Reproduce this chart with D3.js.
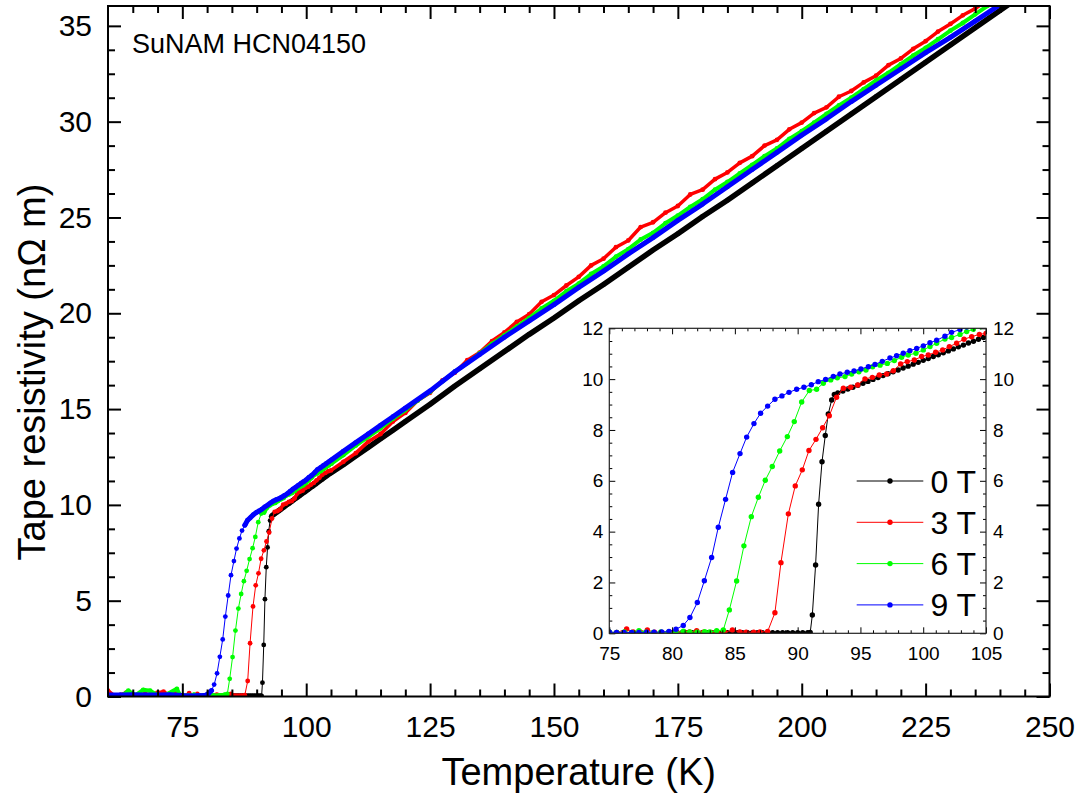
<!DOCTYPE html>
<html>
<head>
<meta charset="utf-8">
<script src="https://cdn.jsdelivr.net/npm/d3@7"></script>
<style>
  body { margin: 0; background: #fff; }
  text { font-family: "Liberation Sans", Arial, Helvetica, sans-serif; fill: #000; }
</style>
</head>
<body>
<div id="chart"></div>
<script>
// ---- data: [temperature K, resistivity nOhm m] ----
var rho0T = [
  [80.0,0.02],[80.4,0.02],[80.8,0.02],[81.2,0.02],[81.6,0.02],[82.0,0.02],[82.4,0.02],[82.8,0.02],
  [83.2,0.02],[83.6,0.02],[84.0,0.02],[84.4,0.02],[84.8,0.02],[85.2,0.02],[85.6,0.02],[86.0,0.02],
  [86.4,0.02],[86.8,0.02],[87.2,0.02],[87.6,0.02],[88.0,0.02],[88.4,0.02],[88.8,0.02],[89.2,0.02],
  [89.6,0.02],[90.0,0.02],[90.4,0.02],[90.8,0.02],[91.0,0.03],
  [91.17,0.72],[91.43,2.69],[91.67,5.08],[91.94,6.75],[92.2,7.78],[92.44,8.63],[92.71,9.18],[92.92,9.40],
  [93.2,9.46],[93.6,9.53],[94.0,9.61],[94.4,9.68],[94.8,9.76],[95.2,9.84],[95.6,9.91],[96.0,9.99],
  [96.4,10.06],[96.8,10.14],[97.2,10.21],[97.6,10.29],[98.0,10.36],[98.4,10.44],[98.8,10.51],[99.2,10.59],
  [99.6,10.66],[100.0,10.74],[100.4,10.81],[100.8,10.89],[101.2,10.96],[101.6,11.04],[102.0,11.11],
  [102.4,11.19],[102.8,11.27],[103.2,11.34],[103.6,11.42],[104.0,11.49],[104.4,11.57],[104.8,11.64],
  [105.2,11.71],
  [107.5,12.1],[110,12.55],[112.5,13.0],[115,13.45],[117.5,13.9],[120,14.35],[125,15.25],[130,16.2],
  [135,17.1],[140,18.0],[145,18.9],[150,19.75],[155,20.65],[160,21.5],[165,22.4],[170,23.3],
  [175,24.15],[180,25.05],[185,25.9],[190,26.8],[195,27.7],[200,28.6],[205,29.5],[210,30.4],
  [215,31.3],[220,32.2],[225,33.1],[230,34.0],[235,34.9],[240,35.8],[242.5,36.25]
];

var rho3T = [
  [60,0.3],[61.2,0.06],[62.5,0.08],[63.7,0.2],[65,0.05],[66.2,0.06],[67.5,0.15],[68.7,0.07],
  [70,0.2],[71.2,0.25],[72.5,0.06],[73.7,0.2],[74.5,0.07],
  [75.0,0.04],[75.6,0.03],[76.38,0.17],[76.9,0.05],[77.5,0.04],[78.03,0.13],[78.6,0.04],[79.2,0.03],
  [79.8,0.05],[80.4,0.03],[81.0,0.04],[81.4,0.05],[81.96,0.1],[82.5,0.04],[83.1,0.03],[83.6,0.05],
  [84.2,0.04],[84.8,0.13],[85.4,0.05],[85.9,0.04],[86.5,0.04],[87.0,0.05],[87.61,0.07],
  [88.19,0.81],[88.67,2.78],[89.26,4.70],[89.81,5.80],[90.37,6.43],[90.90,7.19],[91.46,7.63],
  [91.99,8.09],[92.52,8.56],[93.10,9.29],[93.64,9.64],[94.22,9.68],[94.78,9.77],[95.36,10.01],
  [95.95,10.07],[96.50,10.16],[97.09,10.20],[97.62,10.33],[98.20,10.60],[98.73,10.69],[99.29,10.75],
  [99.87,10.89],[100.40,10.95],[100.99,11.06],[101.55,11.15],[102.08,11.28],[102.66,11.41],
  [103.25,11.57],[103.86,11.67],[104.47,11.76],[105.0,11.80],
  [107.5,12.25],[110,12.7],[112.5,13.3],[115,13.7],[117.5,14.35],[120,14.8],[122.5,15.45],[125,15.85],
  [127.5,16.5],[130,16.9],[132.5,17.55],[135,17.95],[137.5,18.55],[140,19.0],[142.5,19.55],[145,19.95],
  [147.5,20.6],[150,20.95],[152.5,21.45],[155,21.9],[157.5,22.5],[160,22.85],[162.5,23.45],[165,23.8],
  [167.5,24.5],[170,24.75],[172.5,25.25],[175,25.6],[177.5,26.2],[180,26.45],[182.5,27.0],[185,27.35],
  [187.5,27.85],[190,28.2],[192.5,28.75],[195,29.05],[197.5,29.6],[200,29.95],[202.5,30.45],[205,30.75],
  [207.5,31.3],[210,31.6],[212.5,32.05],[215,32.4],[217.5,32.95],[220,33.3],[222.5,33.8],[225,34.2],
  [227.5,34.7],[230,35.1],[232.5,35.55],[235,35.9],[237.5,36.35]
];

var rho6T = [
  [60,0.06],[61.5,0.05],[63,0.07],[64.1,0.3],[65.5,0.06],[67.1,0.35],[68.5,0.3],[70,0.07],
  [71.5,0.06],[73.9,0.4],[74.5,0.08],
  [75.0,0.05],[75.6,0.03],[76.2,0.05],[76.8,0.03],[77.36,0.1],[77.9,0.04],[78.5,0.03],[79.1,0.05],
  [79.7,0.04],[80.3,0.03],[80.9,0.08],[81.4,0.05],[82.0,0.04],[82.6,0.06],[83.0,0.05],[83.55,0.1],
  [84.08,0.13],[84.56,0.92],[85.14,2.06],[85.72,3.44],[86.31,4.59],[86.87,5.35],[87.42,6.02],
  [87.98,6.56],[88.57,7.17],[89.18,7.74],[89.73,8.33],[90.32,9.10],[90.93,9.55],[91.51,9.60],
  [92.04,9.84],[92.63,9.97],[93.16,10.05],[93.77,10.10],[94.30,10.20],[94.88,10.29],[95.44,10.36],
  [95.97,10.49],[96.56,10.55],[97.14,10.62],[97.70,10.73],[98.28,10.86],[98.81,10.95],[99.42,11.02],
  [100.01,11.15],[100.54,11.28],[101.07,11.41],[101.73,11.58],[102.26,11.64],[102.93,11.76],
  [103.46,11.87],[103.99,11.96],[104.57,12.06],[105.1,12.15],
  [107.5,12.6],[110,13.1],[112.5,13.55],[115,14.0],[117.5,14.5],[120,14.95],[122.5,15.45],[125,15.9],
  [127.5,16.45],[130,16.95],[132.5,17.4],[135,17.9],[137.5,18.4],[140,18.85],[142.5,19.3],[145,19.75],
  [147.5,20.25],[150,20.65],[152.5,21.15],[155,21.55],[157.5,22.05],[160,22.45],[162.5,22.95],
  [165,23.35],[167.5,23.85],[170,24.2],[172.5,24.7],[175,25.1],[177.5,25.55],[180,25.95],[182.5,26.45],
  [185,26.85],[187.5,27.3],[190,27.75],[192.5,28.2],[195,28.6],[197.5,29.1],[200,29.5],[202.5,29.95],
  [205,30.4],[207.5,30.85],[210,31.25],[212.5,31.7],[215,32.15],[217.5,32.55],[220,33.0],[222.5,33.45],
  [225,33.85],[227.5,34.3],[230,34.75],[232.5,35.15],[235,35.6],[237.5,36.05]
];

var rho9T = [
  [60,0.08],[62.5,0.08],[65,0.09],[67.5,0.08],[70,0.08],[72.5,0.09],
  [75.0,0.05],[75.58,0.03],[76.17,0.03],[76.78,0.03],[77.36,0.03],[77.97,0.04],[78.56,0.04],
  [79.17,0.05],[79.75,0.07],[80.31,0.16],[80.89,0.31],[81.42,0.62],[82.01,1.21],[82.57,2.07],
  [83.15,2.98],[83.68,4.17],[84.26,5.27],[84.82,6.33],[85.41,7.07],[85.94,7.72],[86.52,8.25],
  [87.05,8.66],[87.61,8.94],[88.19,9.21],[88.75,9.34],[89.31,9.48],[89.92,9.60],[90.50,9.68],
  [91.09,9.78],[91.64,9.90],[92.23,9.99],[92.84,10.11],[93.37,10.20],[93.95,10.27],[94.49,10.32],
  [95.04,10.40],[95.63,10.49],[96.16,10.58],[96.74,10.70],[97.35,10.83],[97.88,10.92],[98.41,11.02],
  [98.94,11.12],[99.48,11.21],[100.01,11.31],[100.54,11.43],[101.07,11.53],[101.73,11.69],
  [102.26,11.84],[102.93,11.95],[103.46,12.05],[104.0,12.15],[104.55,12.25],[105.1,12.35],
  [107.5,12.8],[110,13.25],[112.5,13.7],[115,14.15],[117.5,14.6],[120,15.05],[125,15.95],[130,16.95],
  [135,17.85],[140,18.75],[145,19.6],[150,20.45],[155,21.35],[160,22.2],[165,23.1],[170,23.95],
  [175,24.85],[180,25.7],[185,26.6],[190,27.5],[195,28.4],[200,29.3],[205,30.15],[210,31.05],
  [215,31.9],[220,32.75],[225,33.6],[230,34.4],[235,35.25],[240,36.1]
];

var seriesNames = ["0 T", "3 T", "6 T", "9 T"];
var seriesData = [rho0T, rho3T, rho6T, rho9T];

var xTicksMain = [75, 100, 125, 150, 175, 200, 225, 250];
var yTicksMain = [0, 5, 10, 15, 20, 25, 30, 35];
var xTicksInset = [75, 80, 85, 90, 95, 100, 105];
var yTicksInset = [0, 2, 4, 6, 8, 10, 12];

var sampleLabel = "SuNAM HCN04150";
var xTitle = "Temperature (K)";
var yTitle = "Tape resistivity (n\u03A9 m)";

// ---- styles ----
var colors = ["#000000", "#ff0000", "#00ff00", "#0000ff"];
var bandWidths = [5.5, 3.5, 4, 5];

var svg = d3.select("#chart").append("svg")
  .attr("width", 1085).attr("height", 793);

var box = {l: 108, r: 1049.5, t: 6, b: 696.5};
var x = d3.scaleLinear().domain([60, 250]).range([box.l, box.r]);
var y = d3.scaleLinear().domain([0, 36]).range([box.b, 6.7]);

var ibox = {l: 609.3, r: 986, t: 328.3, b: 633.3};
var xi = d3.scaleLinear().domain([75, 105]).range([ibox.l, ibox.r]);
var yi = d3.scaleLinear().domain([0, 12]).range([ibox.b, ibox.t]);

var defs = svg.append("defs");
defs.append("clipPath").attr("id", "clipMain").append("rect")
  .attr("x", box.l).attr("y", box.t).attr("width", box.r - box.l).attr("height", box.b - box.t);
defs.append("clipPath").attr("id", "clipInset").append("rect")
  .attr("x", ibox.l).attr("y", ibox.t).attr("width", ibox.r - ibox.l).attr("height", ibox.b - ibox.t);

// points on the flat parts (normal state / zero) get the dense thick band
function flat(d, i, arr) {
  var s = 0;
  if (i > 0) s = Math.max(s, Math.abs((d[1] - arr[i - 1][1]) / (d[0] - arr[i - 1][0])));
  if (i < arr.length - 1) s = Math.max(s, Math.abs((arr[i + 1][1] - d[1]) / (arr[i + 1][0] - d[0])));
  return s < 0.6;
}

// ---- main plot data ----
var main = svg.append("g").attr("clip-path", "url(#clipMain)");
var lineMain = d3.line().x(function(d) { return x(d[0]); }).y(function(d) { return y(d[1]); });
var bandMain = d3.line().defined(flat).x(function(d) { return x(d[0]); }).y(function(d) { return y(d[1]); });

seriesData.forEach(function(data, k) {
  var g = main.append("g");
  g.append("path").datum(data).attr("d", bandMain)
    .attr("fill", "none").attr("stroke", colors[k]).attr("stroke-width", bandWidths[k])
    .attr("stroke-linejoin", "round").attr("stroke-linecap", "round");
  g.append("path").datum(data).attr("d", lineMain)
    .attr("fill", "none").attr("stroke", colors[k]).attr("stroke-width", 1);
  g.selectAll("circle").data(data).enter().append("circle")
    .attr("cx", function(d) { return x(d[0]); })
    .attr("cy", function(d) { return y(d[1]); })
    .attr("r", 2.4).attr("fill", colors[k]);
});

// ---- main axes ----
function drawAxis(g, axis, width) {
  g.call(axis);
  g.select(".domain").remove();
  g.selectAll(".tick line").attr("stroke", "#000").attr("stroke-width", width);
}

var xMinor = d3.range(65, 250, 5).filter(function(v) { return v % 25 !== 0; });
var yMinor = d3.range(1.25, 36, 1.25).filter(function(v) { return v % 5 !== 0; });

var axB = svg.append("g").attr("transform", "translate(0," + box.b + ")");
drawAxis(axB, d3.axisBottom(x).tickValues(xTicksMain).tickSize(-13).tickPadding(19), 2);
axB.selectAll("text").attr("font-size", 30);
drawAxis(svg.append("g").attr("transform", "translate(0," + box.b + ")"),
  d3.axisBottom(x).tickValues(xMinor).tickSize(-7).tickFormat(""), 2);

drawAxis(svg.append("g").attr("transform", "translate(0," + box.t + ")"),
  d3.axisTop(x).tickValues(xTicksMain).tickSize(-13).tickFormat(""), 2);
drawAxis(svg.append("g").attr("transform", "translate(0," + box.t + ")"),
  d3.axisTop(x).tickValues(xMinor).tickSize(-7).tickFormat(""), 2);

var axL = svg.append("g").attr("transform", "translate(" + box.l + ",0)");
drawAxis(axL, d3.axisLeft(y).tickValues(yTicksMain).tickSize(-13).tickPadding(16), 2);
axL.selectAll("text").attr("font-size", 30);
drawAxis(svg.append("g").attr("transform", "translate(" + box.l + ",0)"),
  d3.axisLeft(y).tickValues(yMinor).tickSize(-7).tickFormat(""), 2);

drawAxis(svg.append("g").attr("transform", "translate(" + box.r + ",0)"),
  d3.axisRight(y).tickValues(yTicksMain).tickSize(-13).tickFormat(""), 2);
drawAxis(svg.append("g").attr("transform", "translate(" + box.r + ",0)"),
  d3.axisRight(y).tickValues(yMinor).tickSize(-7).tickFormat(""), 2);

svg.append("rect")
  .attr("x", box.l).attr("y", box.t).attr("width", box.r - box.l).attr("height", box.b - box.t)
  .attr("fill", "none").attr("stroke", "#000").attr("stroke-width", 2);

svg.append("text").attr("x", 132).attr("y", 53).attr("font-size", 27).text(sampleLabel);

svg.append("text").attr("x", (box.l + box.r) / 2).attr("y", 785)
  .attr("text-anchor", "middle").attr("font-size", 38).text(xTitle);
svg.append("text").attr("transform", "translate(45,372) rotate(-90)")
  .attr("text-anchor", "middle").attr("font-size", 38).text(yTitle);

// ---- inset ----
var inset = svg.append("g");
inset.append("rect")
  .attr("x", ibox.l).attr("y", ibox.t).attr("width", ibox.r - ibox.l).attr("height", ibox.b - ibox.t)
  .attr("fill", "#fff");

var insetData = inset.append("g").attr("clip-path", "url(#clipInset)");
var lineIn = d3.line().x(function(d) { return xi(d[0]); }).y(function(d) { return yi(d[1]); });
seriesData.forEach(function(data, k) {
  var part = data.filter(function(d) { return d[0] >= 74 && d[0] <= 106; });
  var g = insetData.append("g");
  g.append("path").datum(part).attr("d", lineIn)
    .attr("fill", "none").attr("stroke", colors[k]).attr("stroke-width", 1);
  g.selectAll("circle").data(part).enter().append("circle")
    .attr("cx", function(d) { return xi(d[0]); })
    .attr("cy", function(d) { return yi(d[1]); })
    .attr("r", 2.7).attr("fill", colors[k]);
});

var xiMinor = d3.range(76, 105, 1).filter(function(v) { return v % 5 !== 0; });
var yiMinor = d3.range(0.5, 12, 0.5).filter(function(v) { return v % 2 !== 0; });

var iB = inset.append("g").attr("transform", "translate(0," + ibox.b + ")");
drawAxis(iB, d3.axisBottom(xi).tickValues(xTicksInset).tickSize(-6).tickPadding(13), 1);
iB.selectAll("text").attr("font-size", 19);
drawAxis(inset.append("g").attr("transform", "translate(0," + ibox.b + ")"),
  d3.axisBottom(xi).tickValues(xiMinor).tickSize(-3).tickFormat(""), 1);
drawAxis(inset.append("g").attr("transform", "translate(0," + ibox.t + ")"),
  d3.axisTop(xi).tickValues(xTicksInset).tickSize(-6).tickFormat(""), 1);
drawAxis(inset.append("g").attr("transform", "translate(0," + ibox.t + ")"),
  d3.axisTop(xi).tickValues(xiMinor).tickSize(-3).tickFormat(""), 1);

var iL = inset.append("g").attr("transform", "translate(" + ibox.l + ",0)");
drawAxis(iL, d3.axisLeft(yi).tickValues(yTicksInset).tickSize(-6).tickPadding(6), 1);
iL.selectAll("text").attr("font-size", 19);
drawAxis(inset.append("g").attr("transform", "translate(" + ibox.l + ",0)"),
  d3.axisLeft(yi).tickValues(yiMinor).tickSize(-3).tickFormat(""), 1);

var iR = inset.append("g").attr("transform", "translate(" + ibox.r + ",0)");
drawAxis(iR, d3.axisRight(yi).tickValues(yTicksInset).tickSize(-6).tickPadding(7), 1);
iR.selectAll("text").attr("font-size", 19);
drawAxis(inset.append("g").attr("transform", "translate(" + ibox.r + ",0)"),
  d3.axisRight(yi).tickValues(yiMinor).tickSize(-3).tickFormat(""), 1);

inset.append("rect")
  .attr("x", ibox.l).attr("y", ibox.t).attr("width", ibox.r - ibox.l).attr("height", ibox.b - ibox.t)
  .attr("fill", "none").attr("stroke", "#222").attr("stroke-width", 1.2);

// legend
var legend = inset.append("g");
seriesNames.forEach(function(name, k) {
  var ry = 481 + k * 41.3;
  legend.append("line").attr("x1", 856.7).attr("x2", 923.3).attr("y1", ry).attr("y2", ry)
    .attr("stroke", colors[k]).attr("stroke-width", 1);
  legend.append("circle").attr("cx", 890).attr("cy", ry).attr("r", 2.7).attr("fill", colors[k]);
  legend.append("text").attr("x", 930.5).attr("y", ry + 11.5).attr("font-size", 32).text(name);
});
</script>
</body>
</html>
